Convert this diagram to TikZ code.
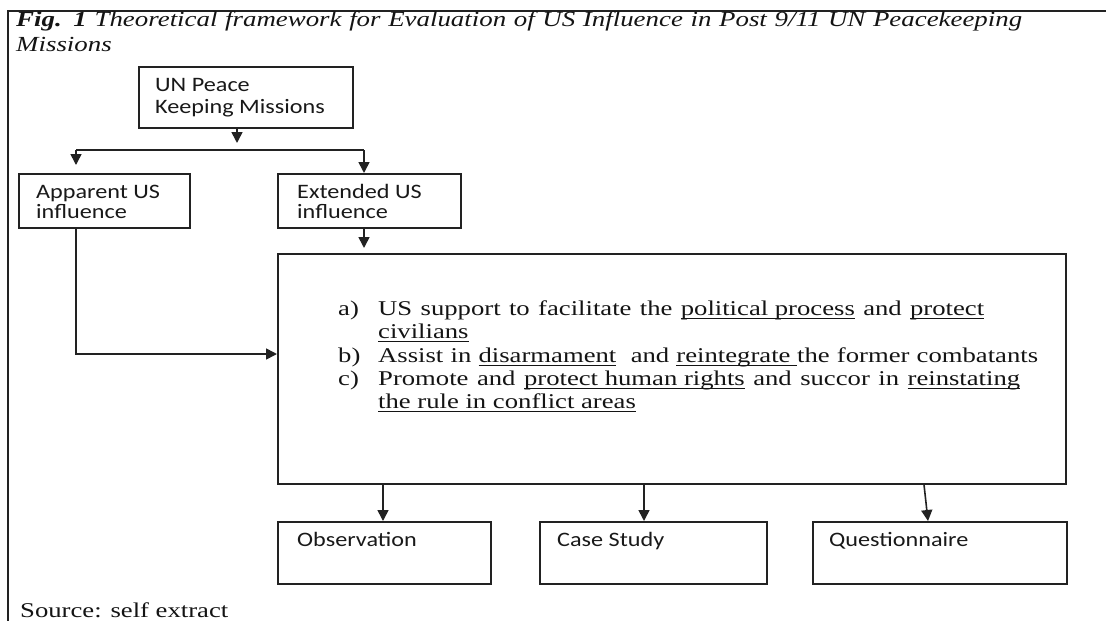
\documentclass[tikz,border=0pt]{standalone}
\usepackage{fontspec}
\usetikzlibrary{arrows.meta}
\newfontfamily\sansf[FakeStretch=1.18]{Carlito}
\newfontfamily\bodyf[FakeStretch=1.27]{Liberation Serif}
\newfontfamily\titlef[FakeStretch=1.25]{Liberation Serif}
\newsavebox\myulbox
\newcommand\myul[1]{\sbox\myulbox{#1}\rlap{\rule[-4pt]{\wd\myulbox}{1.1pt}}\usebox\myulbox}
\definecolor{ln}{HTML}{222222}
\begin{document}
\begin{tikzpicture}[x=1pt,y=-1pt,
 boxst/.style={draw=ln,line width=1.6pt,rectangle,inner sep=0pt,anchor=north west},
 arr/.style={draw=ln,line width=1.6pt,-{Triangle[length=11pt,width=11pt]}},
 plain/.style={draw=ln,line width=1.6pt},
 sanst/.style={font=\sansf\fontsize{20.5}{22}\selectfont,anchor=base west,inner sep=0pt,text=black!90},
 bodyst/.style={font=\bodyf\fontsize{21}{24}\selectfont,anchor=base west,inner sep=0pt,text=black!92},
 titlest/.style={font=\titlef\itshape\fontsize{21.5}{24}\selectfont,anchor=base west,inner sep=0pt,text=black!92}]
\useasboundingbox (0,0) rectangle (1106,621);
\fill[white] (0,0) rectangle (1106,621);
% frame
\draw[draw=ln,line width=2pt] (8,621) -- (8,11) -- (1106,11);
% title
\node[titlest] (t1) at (16,27) {\makebox[1006pt][s]{\bfseries Fig. 1 \mdseries Theoretical framework for Evaluation of US Influence in Post 9/11 UN Peacekeeping}};
\node[titlest] (t2) at (16,51) {Missions};
% boxes
\node[boxst,minimum width=214pt,minimum height=61pt] (un) at (138,66) {};
\node[boxst,minimum width=171pt,minimum height=54pt] (app) at (18,173) {};
\node[boxst,minimum width=183pt,minimum height=54pt] (ext) at (277,173) {};
\node[boxst,minimum width=788pt,minimum height=230pt] (big) at (277,253) {};
\node[boxst,minimum width=213pt,minimum height=62pt] (obs) at (277,521) {};
\node[boxst,minimum width=227pt,minimum height=62pt] (cs) at (539,521) {};
\node[boxst,minimum width=254pt,minimum height=62pt] (q) at (812,521) {};
% box texts
\node[sanst] (un1) at (155,91) {UN Peace};
\node[sanst] (un2) at (155,113) {Keeping Missions};
\node[sanst] (ap1) at (36,198) {Apparent US};
\node[sanst] (ap2) at (36,218) {influence};
\node[sanst] (ex1) at (297,198) {Extended US};
\node[sanst] (ex2) at (297,218) {influence};
\node[sanst] (obst) at (297,546) {Observation};
\node[sanst] (cst) at (557,546) {Case Study};
\node[sanst] (qt) at (829,546) {Questionnaire};
% body text
\node[bodyst] (la) at (338,315) {a)};
\node[bodyst] (la2) at (378,315) {\makebox[606pt][s]{US support to facilitate the \myul{political process} and \myul{protect}}};
\node[bodyst] (la3) at (378,338) {\myul{civilians}};
\node[bodyst] (lb) at (338,362) {b)};
\node[bodyst] (lb2) at (378,362) {\makebox[660pt][s]{Assist in \myul{disarmament} \ and \myul{reintegrate\ }the former combatants}};
\node[bodyst] (lc) at (338,385) {c)};
\node[bodyst] (lc2) at (378,385) {\makebox[642pt][s]{Promote and \myul{protect human rights} and succor in \myul{reinstating}}};
\node[bodyst] (lc3) at (378,408) {\myul{the rule in conflict areas}};
\node[bodyst] (src) at (20,617) {Source: self extract};
% connectors
\coordinate (j1) at (237,143);
\draw[arr] (un.south -| j1) -- (j1);
\coordinate (hL) at (76,150);
\coordinate (hR) at (364,150);
\draw[plain] (hL) -- (hR);
\coordinate (aL) at (76,165);
\draw[arr] (hL) -- (aL);
\draw[arr] (hR) -- (ext.north -| hR);
\coordinate (aE) at (364,248);
\draw[arr] (ext.south -| aE) -- (aE);
\coordinate (bend) at (76,354);
\draw[arr] (app.south -| bend) -- (bend) -- (big.west |- bend);
\coordinate (o1) at (383,0);
\coordinate (c1) at (644,0);
\coordinate (q0) at (924,0);
\coordinate (q1) at (928,0);
\draw[arr] (big.south -| o1) -- (obs.north -| o1);
\draw[arr] (big.south -| c1) -- (cs.north -| c1);
\draw[arr] (big.south -| q0) -- (q.north -| q1);
\end{tikzpicture}
\end{document}
